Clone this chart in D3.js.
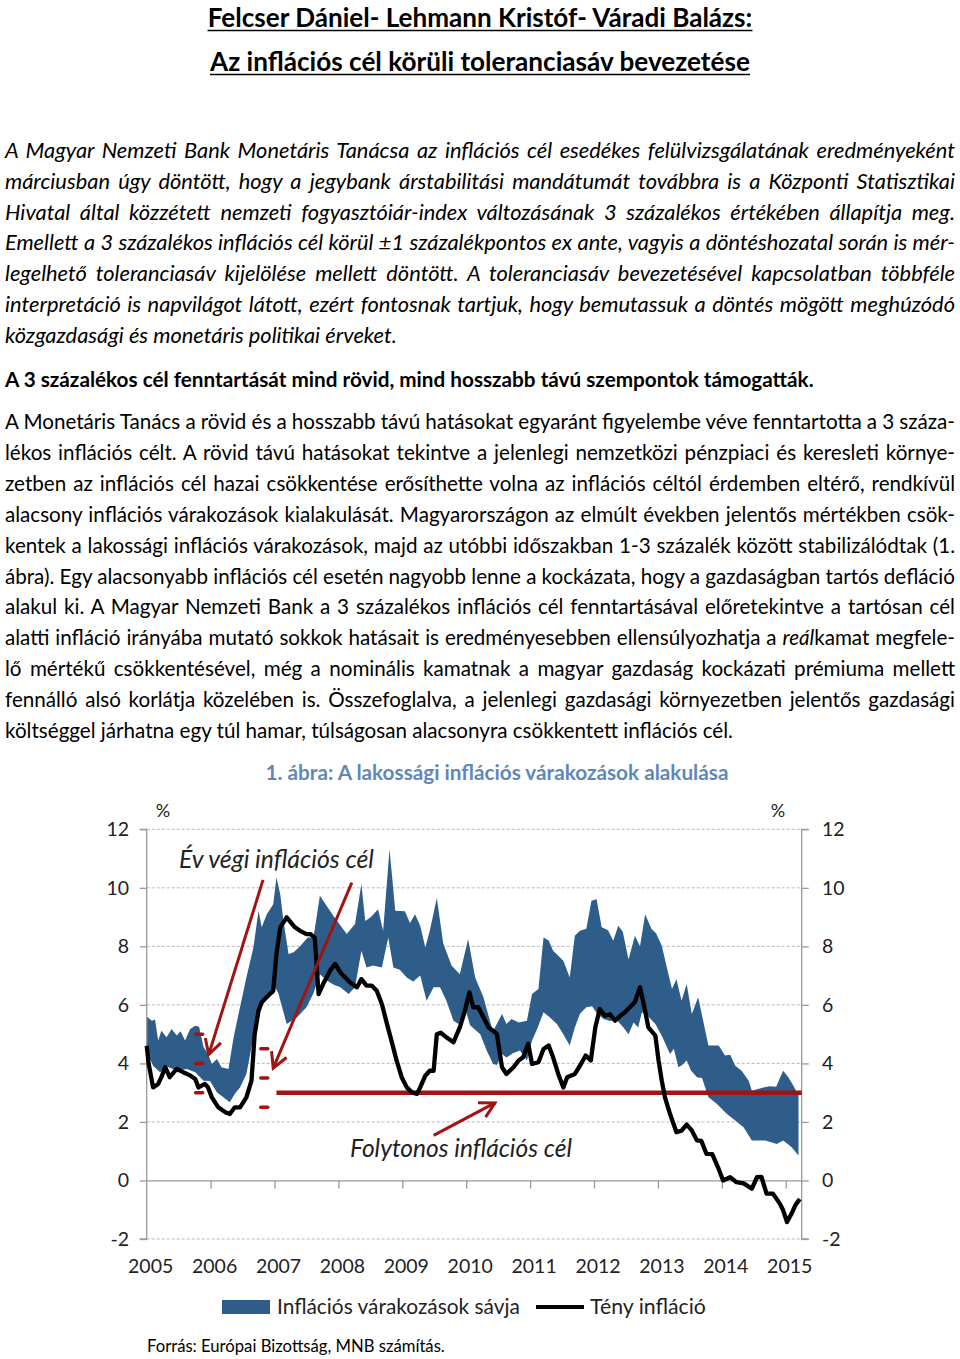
<!DOCTYPE html>
<html><head><meta charset="utf-8">
<script src="https://cdn.jsdelivr.net/npm/d3@7"></script>
<style>
html,body{margin:0;padding:0;background:#fff;}
svg{display:block;}
text{font-family:Lato,"Open Sans",sans-serif;}
</style></head>
<body>
<svg id="page" width="960" height="1359"></svg>
<script>
// ---------------- DATA ----------------
const titleLines = ["Felcser Dániel- Lehmann Kristóf- Váradi Balázs:", "Az inflációs cél körüli toleranciasáv bevezetése"];
const para1 = [
"A Magyar Nemzeti Bank Monetáris Tanácsa az inflációs cél esedékes felülvizsgálatának eredményeként",
"márciusban úgy döntött, hogy a jegybank árstabilitási mandátumát továbbra is a Központi Statisztikai",
"Hivatal által közzétett nemzeti fogyasztóiár-index változásának 3 százalékos értékében állapítja meg.",
"Emellett a 3 százalékos inflációs cél körül ±1 százalékpontos ex ante, vagyis a döntéshozatal során is mér-",
"legelhető toleranciasáv kijelölése mellett döntött. A toleranciasáv bevezetésével kapcsolatban többféle",
"interpretáció is napvilágot látott, ezért fontosnak tartjuk, hogy bemutassuk a döntés mögött meghúzódó",
"közgazdasági és monetáris politikai érveket."];
const boldLine = "A 3 százalékos cél fenntartását mind rövid, mind hosszabb távú szempontok támogatták.";
const para2 = [
"A Monetáris Tanács a rövid és a hosszabb távú hatásokat egyaránt figyelembe véve fenntartotta a 3 száza-",
"lékos inflációs célt. A rövid távú hatásokat tekintve a jelenlegi nemzetközi pénzpiaci és keresleti környe-",
"zetben az inflációs cél hazai csökkentése erősíthette volna az inflációs céltól érdemben eltérő, rendkívül",
"alacsony inflációs várakozások kialakulását. Magyarországon az elmúlt években jelentős mértékben csök-",
"kentek a lakossági inflációs várakozások, majd az utóbbi időszakban 1-3 százalék között stabilizálódtak (1.",
"ábra). Egy alacsonyabb inflációs cél esetén nagyobb lenne a kockázata, hogy a gazdaságban tartós defláció",
"alakul ki. A Magyar Nemzeti Bank a 3 százalékos inflációs cél fenntartásával előretekintve a tartósan cél",
"alatti infláció irányába mutató sokkok hatásait is eredményesebben ellensúlyozhatja a *reál*kamat megfele-",
"lő mértékű csökkentésével, még a nominális kamatnak a magyar gazdaság kockázati prémiuma mellett",
"fennálló alsó korlátja közelében is. Összefoglalva, a jelenlegi gazdasági környezetben jelentős gazdasági",
"költséggel járhatna egy túl hamar, túlságosan alacsonyra csökkentett inflációs cél."];
const chartTitle = "1. ábra: A lakossági inflációs várakozások alakulása";
const sourceText = "Forrás: Európai Bizottság, MNB számítás.";
const legendLabels = ["Inflációs várakozások sávja", "Tény infláció"];
const annotTarget = "Év végi inflációs cél";
const annotContinuous = "Folytonos inflációs cél";
const unitLabel = "%";

const yearLabels = [2005,2006,2007,2008,2009,2010,2011,2012,2013,2014,2015];
const yTickValues = [-2,0,2,4,6,8,10,12];

// Actual inflation (decimal year, %)
const inflT = [2005.00,2005.03,2005.10,2005.18,2005.23,2005.29,2005.36,2005.47,2005.57,2005.68,2005.76,2005.81,2005.91,2005.96,
2006.02,2006.12,2006.23,2006.30,2006.38,2006.46,2006.56,2006.64,2006.69,2006.75,2006.80,2006.90,2006.98,
2007.03,2007.09,2007.19,2007.32,2007.40,2007.50,2007.56,2007.63,2007.69,2007.76,2007.87,2007.95,
2008.03,2008.18,2008.29,2008.36,2008.44,2008.52,2008.60,2008.68,2008.76,2008.83,2008.91,2008.99,
2009.07,2009.15,2009.23,2009.28,2009.36,2009.43,2009.49,2009.54,2009.60,2009.69,2009.80,2009.90,2009.98,
2010.05,2010.11,2010.19,2010.27,2010.35,2010.42,2010.48,2010.56,2010.63,2010.74,2010.82,2010.89,2010.97,
2011.03,2011.13,2011.21,2011.29,2011.36,2011.44,2011.52,2011.58,2011.70,2011.78,2011.87,2011.95,
2012.02,2012.09,2012.17,2012.25,2012.33,2012.41,2012.48,2012.56,2012.64,2012.72,2012.80,2012.85,2012.96,
2013.01,2013.06,2013.11,2013.19,2013.29,2013.37,2013.45,2013.53,2013.61,2013.68,2013.76,2013.85,2013.94,
2014.02,2014.13,2014.23,2014.34,2014.47,2014.55,2014.62,2014.70,2014.80,2014.91,2014.96,
2015.02,2015.09,2015.15,2015.22];
const inflV = [4.6,4.0,3.18,3.30,3.53,3.87,3.53,3.81,3.70,3.59,3.47,3.18,3.30,3.18,
2.84,2.50,2.33,2.27,2.50,2.50,2.84,3.41,5.0,5.80,6.09,6.31,6.48,
7.74,8.65,8.99,8.65,8.53,8.42,8.42,8.30,6.37,6.71,7.17,7.40,
7.11,6.77,6.60,6.88,6.66,6.66,6.48,6.03,5.35,4.78,4.10,3.53,
3.18,3.01,2.96,3.18,3.58,3.75,3.75,5.0,5.05,4.89,4.72,5.23,5.80,
6.43,5.92,5.92,5.57,5.23,5.12,5.0,3.87,3.64,3.87,4.10,4.21,4.67,
3.98,4.04,4.49,4.61,4.21,3.64,3.18,3.53,3.64,3.92,4.27,4.10,
5.23,5.86,5.63,5.68,5.46,5.63,5.74,5.92,6.10,6.60,5.80,5.23,4.95,
4.10,3.41,2.84,2.27,1.65,1.70,1.91,1.71,1.37,1.35,0.91,0.90,0.45,
0.0,0.11,-0.06,-0.10,-0.28,0.11,0.12,-0.45,-0.45,-0.80,-1.02,
-1.42,-1.14,-0.85,-0.63];

// Upper edge of the expectations band
const bandHiT = [2005.00,2005.08,2005.13,2005.18,2005.23,2005.31,2005.39,2005.47,2005.53,2005.60,2005.68,2005.76,2005.82,2005.89,2005.96,
2006.02,2006.10,2006.17,2006.28,2006.36,2006.46,2006.56,2006.67,2006.75,2006.80,2006.88,2006.98,
2007.03,2007.09,2007.14,2007.22,2007.30,2007.40,2007.52,2007.61,2007.71,2007.92,
2008.13,2008.26,2008.36,2008.42,2008.51,2008.62,2008.70,2008.80,2008.89,
2009.04,2009.12,2009.20,2009.28,2009.36,2009.43,2009.54,2009.64,2009.77,2009.90,
2010.03,2010.14,2010.27,2010.37,2010.42,2010.56,2010.63,2010.71,2010.82,2010.95,
2011.03,2011.13,2011.21,2011.29,2011.36,2011.52,2011.62,2011.70,2011.78,2011.88,2011.96,
2012.04,2012.12,2012.22,2012.30,2012.38,2012.45,2012.54,2012.64,2012.72,2012.80,2012.90,2012.97,
2013.06,2013.14,2013.22,2013.29,2013.37,2013.45,2013.53,2013.63,2013.79,2013.95,
2014.05,2014.13,2014.21,2014.31,2014.42,2014.47,2014.65,2014.75,2014.85,2014.96,
2015.04,2015.12,2015.20];
const bandHiV = [5.6,5.46,5.5,4.78,5.12,4.89,5.18,4.95,5.1,4.78,5.18,5.29,5.25,4.55,4.32,
3.98,4.15,3.87,3.81,4.89,5.92,6.94,7.96,9.22,8.65,9.10,9.44,
10.35,9.78,8.87,7.74,7.8,8.0,8.3,8.30,9.73,9.05,
8.42,8.76,10.13,8.87,9.0,9.27,8.53,11.32,9.22,
9.2,8.8,9.1,8.7,7.96,8.53,9.65,8.11,7.35,7.05,
8.25,6.94,6.26,5.46,5.1,5.69,5.35,5.52,5.40,5.46,
6.37,6.54,8.30,8.2,7.85,7.51,6.94,8.36,8.53,8.6,9.56,
9.61,8.65,8.55,8.19,8.70,8.5,7.55,8.36,8.0,9.10,8.59,8.45,
8.02,7.28,6.54,6.88,6.14,6.71,5.69,6.26,4.61,4.61,
4.27,4.3,3.92,3.75,3.41,3.07,3.18,3.22,3.2,3.75,
3.53,3.24,2.90];

// Lower edge of the expectations band
const bandLoT = [2005.00,2005.10,2005.21,2005.31,2005.47,2005.63,2005.76,2005.89,2005.99,
2006.10,2006.20,2006.30,2006.38,2006.46,2006.56,2006.64,2006.72,2006.77,2006.82,2006.93,
2007.01,2007.06,2007.19,2007.35,2007.50,2007.61,2007.71,2007.82,2007.92,
2008.03,2008.16,2008.26,2008.36,2008.44,2008.54,2008.68,2008.78,2008.86,2008.96,
2009.07,2009.17,2009.28,2009.38,2009.49,2009.59,2009.69,2009.80,2009.88,2009.98,
2010.06,2010.22,2010.32,2010.42,2010.48,2010.56,2010.63,2010.73,2010.84,2010.95,
2011.03,2011.11,2011.21,2011.31,2011.42,2011.52,2011.62,2011.70,2011.78,2011.88,2011.97,
2012.05,2012.15,2012.25,2012.35,2012.46,2012.54,2012.62,2012.69,2012.75,2012.85,2012.96,
2013.07,2013.19,2013.25,2013.32,2013.38,2013.45,2013.52,2013.61,2013.69,2013.79,2013.92,
2014.08,2014.21,2014.34,2014.47,2014.68,2014.86,2014.96,2015.09,2015.20];
const bandLoV = [4.4,3.92,3.70,3.9,3.75,3.81,3.7,3.41,3.4,
3.01,2.84,2.67,2.96,3.18,3.64,4.55,5.23,5.75,6.03,6.37,
6.60,6.4,5.35,5.57,5.92,6.4,7.05,6.83,6.7,
6.60,6.37,6.6,7.85,7.28,7.35,7.28,8.30,7.28,7.2,
6.94,6.8,7.0,6.14,6.6,6.6,6.14,5.46,5.35,5.92,
5.3,5.0,4.44,3.98,3.95,4.32,4.2,4.35,4.44,4.10,
4.78,5.18,5.75,5.57,5.35,5.0,4.61,5.23,5.7,5.92,5.95,
5.7,5.52,5.45,5.5,5.23,5.0,5.4,5.23,5.75,5.6,5.35,
4.9,4.32,4.5,3.87,3.95,4.10,3.75,3.53,3.5,2.84,2.62,
2.27,2.05,1.82,1.37,1.37,1.25,1.37,1.14,0.85];

// Year-end targets (dashes) and continuous target
const yearEndT = [2005.82, 2006.84];
const yearEndV = [[5,4,3],[4.5,3.5,2.5]];
const contTargetT = [2007.03, 2015.25];
const contTargetV = 3;
// Arrows: [fromT, fromV, toT, toV]
const arrows = [[2006.82,10.27,2005.97,4.30],[2008.21,10.18,2006.98,3.84],[2009.49,1.54,2010.45,2.65]];

// ---------------- LAYOUT ----------------
const svg = d3.select("#page");
const BAND = "#2d5d88", RED = "#a01414", GRID = "#b8b8b8", AXIS = "#9a9a9a", TXT = "#222";

function measure(txt, size, weight, style){
  const t = svg.append("text").attr("font-size",size).attr("font-weight",weight).attr("font-style",style).text(txt);
  const w = t.node().getComputedTextLength(); t.remove(); return w;
}
function fit(txt, target, weight, style){ return 20*target/measure(txt,20,weight,style); }

function addLine(txt, x, y, size, weight, style, justifyW){
  const t = svg.append("text").attr("x",x).attr("y",y).attr("font-size",size)
    .attr("font-weight",weight).attr("font-style",style).attr("fill","#000");
  const parts = txt.split("*");
  parts.forEach((p,i)=>{ if(p.length) t.append("tspan").attr("font-style", i%2 ? "italic" : style).text(p); });
  if (justifyW){
    const w = t.node().getComputedTextLength();
    const n = (txt.match(/ /g)||[]).length;
    if (n>0) t.style("word-spacing", ((justifyW - w)/n) + "px");
  }
  return t;
}

// Titles
titleLines.forEach((s,i)=>{
  const target = i===0 ? 545 : 540;
  const fs = fit(s, target, "bold", "normal");
  const yb = i===0 ? 27 : 71;
  const t = addLine(s, 480, yb, fs, "bold", "normal");
  t.attr("text-anchor","middle");
  svg.append("line").attr("x1",480-target/2).attr("x2",480+target/2)
    .attr("y1",yb+3.5).attr("y2",yb+3.5).attr("stroke","#000").attr("stroke-width",1.6);
});

// Paragraph 1 (italic)
const fs1 = fit(para1[para1.length-1], 392, "normal", "italic");
para1.forEach((s,i)=>{
  addLine(s, 5, 158 + i*30.8, fs1, "normal", "italic", i<para1.length-1 ? 950 : null);
});
// Bold line
const fsB = fit(boldLine, 809, "bold", "normal");
addLine(boldLine, 5, 387, fsB, "bold", "normal");
// Paragraph 2
const fs2 = fit(para2[para2.length-1].replace(/\*/g,""), 728, "normal", "normal");
para2.forEach((s,i)=>{
  addLine(s, 5, 429 + i*30.9, fs2, "normal", "normal", i<para2.length-1 ? 950 : null);
});

// Chart title
svg.append("text").attr("x",497).attr("y",780).attr("text-anchor","middle")
  .attr("font-size",fit(chartTitle,463,"bold","normal")).attr("font-weight","bold")
  .attr("fill","#5f87bb").text(chartTitle);

// ---------------- CHART ----------------
const x = d3.scaleLinear().domain([2005, 2015.25]).range([146.7, 801.7]);
const y = d3.scaleLinear().domain([-2, 12]).range([1239, 829.3]);
const g = svg.append("g");

// gridlines
g.selectAll(".grid").data(yTickValues.filter(v=>v!==0)).join("line")
  .attr("x1",x(2005)).attr("x2",x(2015.25)).attr("y1",d=>y(d)).attr("y2",d=>y(d))
  .attr("stroke",GRID).attr("stroke-width",1).attr("stroke-dasharray","3,2");

// band
const hiPts = bandHiT.map((t,i)=>[t,bandHiV[i]]);
const loPts = bandLoT.map((t,i)=>[t,bandLoV[i]]);
const poly = hiPts.concat(loPts.slice().reverse());
g.append("path").attr("d", d3.line().x(d=>x(d[0])).y(d=>y(d[1]))(poly)+"Z").attr("fill",BAND);

// axes
const yl = d3.axisLeft(y).tickValues(yTickValues).tickSize(7).tickFormat("");
const yr = d3.axisRight(y).tickValues(yTickValues).tickSize(7).tickFormat("");
const xa = d3.axisBottom(x).tickValues(yearLabels.slice(1)).tickSize(8).tickFormat("").tickSizeOuter(0);
const gl = g.append("g").attr("transform",`translate(${x(2005)},0)`).call(yl);
const gr = g.append("g").attr("transform",`translate(${x(2015.25)},0)`).call(yr);
const gx = g.append("g").attr("transform",`translate(0,${y(0)})`).call(xa);
[gl,gr,gx].forEach(a=>{ a.selectAll("path,line").attr("stroke",AXIS).attr("stroke-width",1.3); });
gl.select(".domain").attr("d",`M-7,${y(12)}H0V${y(-2)}H-7`);
gr.select(".domain").attr("d",`M7,${y(12)}H0V${y(-2)}H7`);

// tick labels
g.selectAll(".yl").data(yTickValues).join("text").attr("x",129).attr("y",d=>y(d)+7)
  .attr("text-anchor","end").attr("font-size",19.5).attr("fill",TXT).text(d=>d);
g.selectAll(".yr").data(yTickValues).join("text").attr("x",822).attr("y",d=>y(d)+7)
  .attr("font-size",19.5).attr("fill",TXT).text(d=>d);
g.selectAll(".xl").data(yearLabels).join("text").attr("x",d=>x(d)+4).attr("y",1273)
  .attr("text-anchor","middle").attr("font-size",19.5).attr("fill",TXT).text(d=>d);
g.append("text").attr("x",163).attr("y",817).attr("text-anchor","middle").attr("font-size",18).attr("fill",TXT).text(unitLabel);
g.append("text").attr("x",778).attr("y",817).attr("text-anchor","middle").attr("font-size",18).attr("fill",TXT).text(unitLabel);

// continuous target line
g.append("line").attr("x1",x(contTargetT[0])).attr("x2",x(contTargetT[1]))
  .attr("y1",y(contTargetV)).attr("y2",y(contTargetV)).attr("stroke",RED).attr("stroke-width",4.5);

// year-end target dashes
yearEndT.forEach((t,i)=>{
  g.selectAll(null).data(yearEndV[i]).join("line")
    .attr("x1",x(t)-3.5).attr("x2",x(t)+3.5).attr("y1",d=>y(d)).attr("y2",d=>y(d))
    .attr("stroke",RED).attr("stroke-width",3.5).attr("stroke-linecap","round");
});

// actual inflation line
g.append("path").datum(inflT.map((t,i)=>[t,inflV[i]]))
  .attr("d", d3.line().x(d=>x(d[0])).y(d=>y(d[1])))
  .attr("fill","none").attr("stroke","#000").attr("stroke-width",4.3).attr("stroke-linejoin","round");

// arrows
arrows.forEach(a=>{
  const x1=x(a[0]), y1=y(a[1]), x2=x(a[2]), y2=y(a[3]);
  g.append("line").attr("x1",x1).attr("y1",y1).attr("x2",x2).attr("y2",y2)
    .attr("stroke",RED).attr("stroke-width",3);
  const ang = Math.atan2(y1-y2, x1-x2), L=17, sp=0.5;
  const p = [[x2+L*Math.cos(ang+sp), y2+L*Math.sin(ang+sp)],[x2,y2],[x2+L*Math.cos(ang-sp), y2+L*Math.sin(ang-sp)]];
  g.append("path").attr("d", d3.line()(p)).attr("fill","none").attr("stroke",RED).attr("stroke-width",3);
});

// annotation texts
g.append("text").attr("x",179).attr("y",868).attr("font-size",fit(annotTarget,195,"normal","italic"))
  .attr("font-style","italic").attr("fill",TXT).text(annotTarget);
g.append("text").attr("x",350).attr("y",1157).attr("font-size",fit(annotContinuous,222,"normal","italic"))
  .attr("font-style","italic").attr("fill",TXT).text(annotContinuous);

// legend
g.append("rect").attr("x",222).attr("y",1300).attr("width",48).attr("height",14).attr("fill",BAND);
g.append("text").attr("x",277).attr("y",1314).attr("font-size",fit(legendLabels[0],243,"normal","normal")).attr("fill",TXT).text(legendLabels[0]);
g.append("line").attr("x1",536).attr("x2",584).attr("y1",1307).attr("y2",1307).attr("stroke","#000").attr("stroke-width",4);
g.append("text").attr("x",590).attr("y",1314).attr("font-size",fit(legendLabels[1],116,"normal","normal")).attr("fill",TXT).text(legendLabels[1]);

// source
svg.append("text").attr("x",147).attr("y",1352).attr("font-size",fit(sourceText,298,"normal","normal"))
  .attr("fill","#000").text(sourceText);
</script>
</body></html>
